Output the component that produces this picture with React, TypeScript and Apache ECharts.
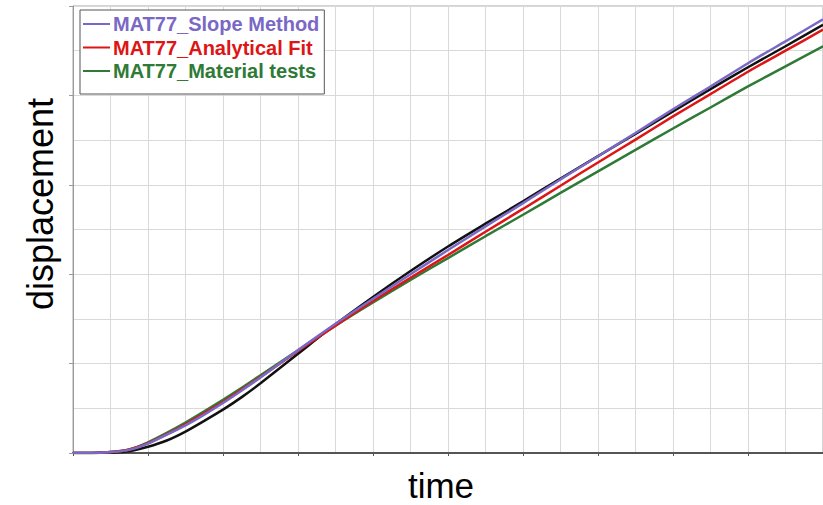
import React, { useEffect, useRef } from "react";
import * as echarts from "echarts";

const timeValues = [0, 0.5, 1, 1.5, 2, 2.5, 3, 3.5, 4, 4.5, 5, 6, 7, 8, 9, 10, 11, 12, 13, 14, 15, 16, 17, 18, 19, 20];
const slopeMethod = [0, 0, 0.02, 0.07, 0.21, 0.41, 0.62, 0.86, 1.12, 1.4, 1.69, 2.3, 2.89, 3.45, 4.0, 4.54, 5.07, 5.59, 6.12, 6.64, 7.16, 7.69, 8.2, 8.72, 9.21, 9.7];
const analyticalFit = [0, 0, 0.02, 0.08, 0.22, 0.42, 0.64, 0.89, 1.14, 1.42, 1.7, 2.28, 2.85, 3.4, 3.92, 4.43, 4.95, 5.46, 5.98, 6.5, 7.01, 7.53, 8.03, 8.53, 9.0, 9.47];
const materialTests = [0, 0, 0.02, 0.08, 0.24, 0.45, 0.68, 0.93, 1.19, 1.46, 1.74, 2.3, 2.85, 3.37, 3.87, 4.36, 4.85, 5.33, 5.82, 6.3, 6.78, 7.26, 7.73, 8.2, 8.65, 9.1];
const reference = [0, 0, 0.01, 0.04, 0.14, 0.28, 0.48, 0.72, 0.97, 1.25, 1.56, 2.22, 2.88, 3.49, 4.07, 4.62, 5.13, 5.63, 6.14, 6.64, 7.14, 7.64, 8.14, 8.63, 9.1, 9.58];

const seriesNames = ["MAT77_Slope Method", "MAT77_Analytical Fit", "MAT77_Material tests"];
const seriesColors = ["#7a68c6", "#dd1515", "#2e7a36"];

const pairs = (ys: number[]) => timeValues.map((x, i) => [x, ys[i]]);

export default function App() {
  const ref = useRef<HTMLDivElement>(null);
  useEffect(() => {
    if (!ref.current) return;
    const chart = echarts.init(ref.current, null, { renderer: "svg" });
    const lineSeries = (name: string, data: number[], color: string, z: number) => ({
      name,
      type: "line",
      data: pairs(data),
      showSymbol: false,
      smooth: 0.25,
      z,
      lineStyle: { color, width: 2.5 },
      itemStyle: { color },
    });
    chart.setOption({
      animation: false,
      grid: {
        left: 73,
        top: 6,
        width: 756,
        height: 447,
        show: true,
        borderColor: "#a8a8a8",
        borderWidth: 1,
        backgroundColor: "#ffffff",
      },
      legend: {
        orient: "vertical",
        left: 80,
        top: 10,
        padding: [4, 5, 13, 3],
        itemGap: 3.5,
        itemWidth: 27,
        itemHeight: 2,
        icon: "rect",
        backgroundColor: "#ffffff",
        borderColor: "#555555",
        borderWidth: 1,
        borderRadius: 0,
        data: seriesNames.map((n, i) => ({
          name: n,
          textStyle: { color: seriesColors[i] },
        })),
        textStyle: {
          fontFamily: "Liberation Sans, Arial, sans-serif",
          fontSize: 20,
          fontWeight: "bold",
          padding: [0, 0, 0, -2],
        },
      },
      xAxis: {
        type: "value",
        min: 0,
        max: 20,
        interval: 2,
        axisLabel: { show: false },
        axisLine: { show: true, lineStyle: { color: "#555555", width: 2 } },
        axisTick: { show: true, length: 3, lineStyle: { color: "#555555" } },
        splitLine: { show: true, lineStyle: { color: "#d9d9d9", width: 1 } },
        minorTick: { show: false, splitNumber: 2 },
        minorSplitLine: { show: true, lineStyle: { color: "#d9d9d9", width: 1 } },
      },
      yAxis: {
        type: "value",
        min: 0,
        max: 10,
        interval: 2,
        axisLabel: { show: false },
        axisLine: { show: true, lineStyle: { color: "#9a9a9a", width: 1 } },
        axisTick: { show: true, length: 4, lineStyle: { color: "#9a9a9a" } },
        splitLine: { show: true, lineStyle: { color: "#d9d9d9", width: 1 } },
        minorTick: { show: false, splitNumber: 2 },
        minorSplitLine: { show: true, lineStyle: { color: "#d9d9d9", width: 1 } },
      },
      graphic: [
        {
          type: "text",
          x: 40,
          y: 204,
          rotation: Math.PI / 2,
          style: {
            text: "displacement",
            font: "36px 'Liberation Sans', Arial, sans-serif",
            fill: "#000000",
            textAlign: "center",
            textVerticalAlign: "middle",
          },
        },
        {
          type: "text",
          x: 441,
          y: 485,
          style: {
            text: "time",
            font: "35px 'Liberation Sans', Arial, sans-serif",
            fill: "#000000",
            textAlign: "center",
            textVerticalAlign: "middle",
          },
        },
      ],
      series: [
        lineSeries("reference", reference, "#111111", 2),
        lineSeries(seriesNames[2], materialTests, seriesColors[2], 3),
        lineSeries(seriesNames[1], analyticalFit, seriesColors[1], 4),
        lineSeries(seriesNames[0], slopeMethod, seriesColors[0], 5),
      ],
    });
    return () => chart.dispose();
  }, []);
  return (
    <div
      ref={ref}
      style={{ position: "absolute", left: 0, top: 0, width: 823, height: 505, background: "#fff" }}
    />
  );
}
